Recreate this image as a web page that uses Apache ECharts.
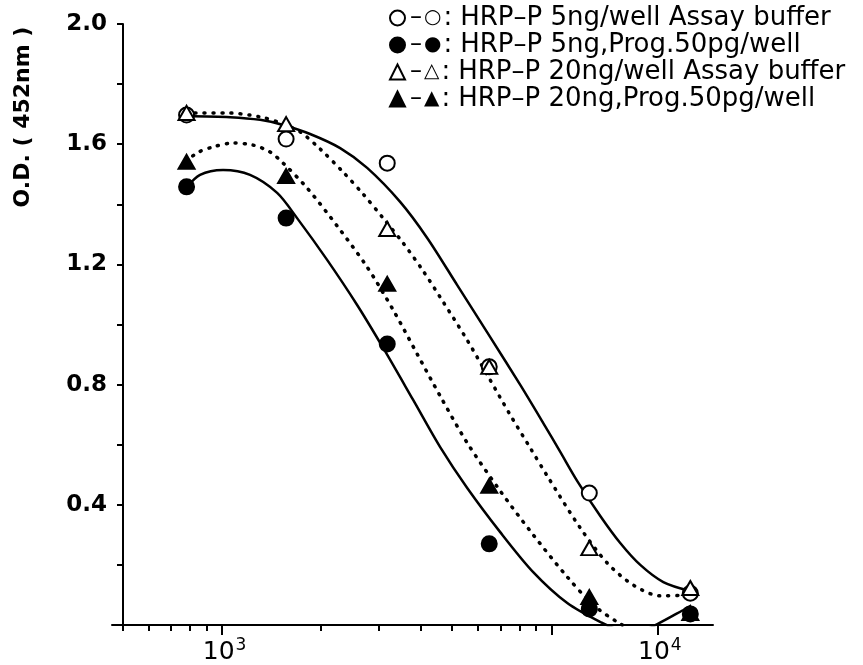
<!DOCTYPE html>
<html>
<head>
<meta charset="utf-8">
<script src="https://cdn.jsdelivr.net/npm/echarts@6/dist/echarts.min.js"></script>
<style>
  html, body { margin: 0; padding: 0; background: #fff; }
  #chart { width: 863px; height: 665px; }
</style>
</head>
<body>
<div id="chart"></div>
<script>
// dose of each well (x, log scale) and O.D. at 452nm
const doses = [780, 1565, 3175, 6480, 13050, 26450];
const od5Buffer = [1.697, 1.617, 1.537, 0.859, 0.439, 0.106];
const od5Prog = [1.458, 1.354, 0.935, 0.270, 0.053, 0.037];
const od20Buffer = [1.704, 1.667, 1.318, 0.859, 0.256, 0.123];
const od20Prog = [1.541, 1.494, 1.135, 0.463, 0.093, 0.040];

// fitted curves
const fit5BufferX = [777, 1058, 1305, 1533, 1851, 2284, 2759, 3475, 4199, 5180, 6525, 8051, 9456, 10650, 11996, 14090, 16200, 18640, 21900, 26460];
const fit5BufferY = [1.694, 1.690, 1.681, 1.664, 1.634, 1.587, 1.521, 1.408, 1.288, 1.131, 0.958, 0.799, 0.672, 0.576, 0.479, 0.363, 0.273, 0.200, 0.143, 0.113];
const fit5ProgX = [777, 857, 1007, 1216, 1470, 1690, 2085, 2572, 3086, 3806, 4598, 5555, 6998, 8814, 11185, 14090, 16200, 18640, 21000, 25190, 26460];
const fit5ProgY = [1.454, 1.498, 1.514, 1.498, 1.438, 1.354, 1.215, 1.065, 0.922, 0.749, 0.592, 0.456, 0.309, 0.176, 0.073, 0.010, -0.017, -0.020, 0.003, 0.050, 0.063];
const fit20BufferX = [777, 1036, 1305, 1501, 1726, 1986, 2333, 2683, 3086, 3549, 4083, 4696, 5555, 6525, 7506, 8636, 9724, 12250, 14800, 17750, 21450, 25190, 26460];
const fit20BufferY = [1.704, 1.704, 1.691, 1.671, 1.641, 1.584, 1.507, 1.434, 1.354, 1.271, 1.178, 1.075, 0.948, 0.815, 0.699, 0.589, 0.496, 0.323, 0.206, 0.133, 0.097, 0.100, 0.110];
const fit20ProgX = [777, 839, 939, 1080, 1242, 1399, 1533, 1813, 2236, 2759, 3311, 3914, 4598, 5555, 6998, 8814, 11185, 13420, 15870, 18640, 21450];
const fit20ProgY = [1.541, 1.571, 1.591, 1.604, 1.597, 1.574, 1.537, 1.454, 1.328, 1.191, 1.048, 0.902, 0.762, 0.606, 0.446, 0.300, 0.160, 0.067, 0.010, -0.030, -0.053];

const seriesNames = [
  'HRP–P 5ng/well Assay buffer',
  'HRP–P 5ng,Prog.50pg/well',
  'HRP–P 20ng/well Assay buffer',
  'HRP–P 20ng,Prog.50pg/well'
];
const legendGlyphs = ['○', '●', '△', '▲'];

// x axis: range, tick marks and labelled powers of ten
const xRange = [463, 31000];
const xMinorTicks = [500, 600, 700, 800, 900, 2000, 3000, 4000, 5000, 6000, 7000, 8000, 9000];
const xMajorTicks = [1000, 10000, 21000];
const xLabelAt = [1000, 21000];
const xLabelExp = ['3', '4'];

const FONT = 'DejaVu Sans';

const pairs = (xs, ys) => xs.map((x, i) => [Math.log10(x), ys[i]]);

const makePoints = (name, ys, symbol, filled) => ({
  name: name,
  type: 'scatter',
  symbol: symbol,
  symbolSize: symbol === 'triangle' ? [16, 14] : 15,
  z: 4,
  itemStyle: { color: filled ? '#000' : '#fff', borderColor: '#000', borderWidth: 2, opacity: 1 },
  emphasis: { disabled: true },
  data: pairs(doses, ys)
});

const makeFit = (name, xs, ys, dotted) => ({
  name: name,
  type: 'line',
  smooth: 0.3,
  symbol: 'none',
  z: 2,
  lineStyle: dotted
    ? { color: '#000', width: 3.5, type: [1, 8], cap: 'round' }
    : { color: '#000', width: 2.5 },
  data: pairs(xs, ys)
});

const chart = echarts.init(document.getElementById('chart'));

const option = {
  backgroundColor: '#fff',
  animation: false,
  grid: { left: 112, right: 150, top: 24, bottom: 40 },
  legend: {
    data: seriesNames,
    orient: 'vertical',
    left: 384,
    top: 0,
    itemWidth: 15,
    itemHeight: 15,
    itemGap: 1,
    selectedMode: false,
    textStyle: {
      fontFamily: FONT, fontSize: 26, color: '#000', lineHeight: 24,
      rich: {
        d: { fontFamily: FONT, fontSize: 24, color: '#000', padding: [0, 2, 0, 0] },
        m: { fontFamily: FONT, fontSize: 20, color: '#000' },
        c: { fontFamily: FONT, fontSize: 26, color: '#000', padding: [0, 8, 0, 2] }
      }
    },
    formatter: name => {
      const i = seriesNames.indexOf(name);
      return `{d|–}{m|${legendGlyphs[i]}}{c|:}${name}`;
    }
  },
  xAxis: [
    {
      type: 'value',
      position: 'bottom',
      min: Math.log10(xRange[0]),
      max: Math.log10(xRange[1]),
      axisLine: { lineStyle: { color: '#000', width: 2 } },
      axisTick: { customValues: xMajorTicks.map(Math.log10), length: 10, lineStyle: { color: '#000', width: 2 } },
      splitLine: { show: false },
      axisLabel: {
        customValues: xLabelAt.map(Math.log10),
        margin: 12,
        color: '#000',
        formatter: v => {
          let k = 0;
          xLabelAt.forEach((x, i) => { if (Math.abs(Math.log10(x) - v) < Math.abs(Math.log10(xLabelAt[k]) - v)) k = i; });
          return `{p|}{b|10}{s|${xLabelExp[k]}}`;
        },
        rich: {
          p: { width: 5 },
          b: { fontFamily: FONT, fontSize: 25, color: '#000' },
          s: { fontFamily: FONT, fontSize: 17, color: '#000', padding: [0, 0, 14, 1] }
        }
      }
    },
    {
      type: 'value',
      position: 'bottom',
      min: Math.log10(xRange[0]),
      max: Math.log10(xRange[1]),
      axisLine: { show: false },
      axisTick: { customValues: xMinorTicks.map(Math.log10), length: 6, lineStyle: { color: '#000', width: 2 } },
      axisLabel: { show: false },
      splitLine: { show: false }
    }
  ],
  yAxis: {
    type: 'value',
    min: 0,
    max: 2,
    interval: 0.2,
    offset: -11,
    axisLine: { show: true, lineStyle: { color: '#000', width: 2 } },
    axisTick: { show: true, length: 6, lineStyle: { color: '#000', width: 2 } },
    splitLine: { show: false },
    axisLabel: {
      margin: 16,
      color: '#000',
      fontFamily: FONT,
      fontWeight: 'bold',
      fontSize: 23,
      formatter: v => (v > 0 && Math.round(v * 10) % 4 === 0) ? v.toFixed(1) : ''
    }
  },
  graphic: [
    {
      type: 'text',
      x: 23,
      y: 117,
      rotation: Math.PI / 2,
      style: {
        text: 'O.D. ( 452nm )',
        fontFamily: FONT,
        fontWeight: 'bold',
        fontSize: 22,
        fill: '#000',
        align: 'center',
        verticalAlign: 'middle'
      }
    }
  ],
  series: [
    makeFit('fit 5ng buffer', fit5BufferX, fit5BufferY, false),
    makeFit('fit 5ng prog', fit5ProgX, fit5ProgY, false),
    makeFit('fit 20ng buffer', fit20BufferX, fit20BufferY, true),
    makeFit('fit 20ng prog', fit20ProgX, fit20ProgY, true),
    makePoints(seriesNames[0], od5Buffer, 'circle', false),
    makePoints(seriesNames[1], od5Prog, 'circle', true),
    makePoints(seriesNames[2], od20Buffer, 'triangle', false),
    makePoints(seriesNames[3], od20Prog, 'triangle', true)
  ]
};

chart.setOption(option);
</script>
</body>
</html>
